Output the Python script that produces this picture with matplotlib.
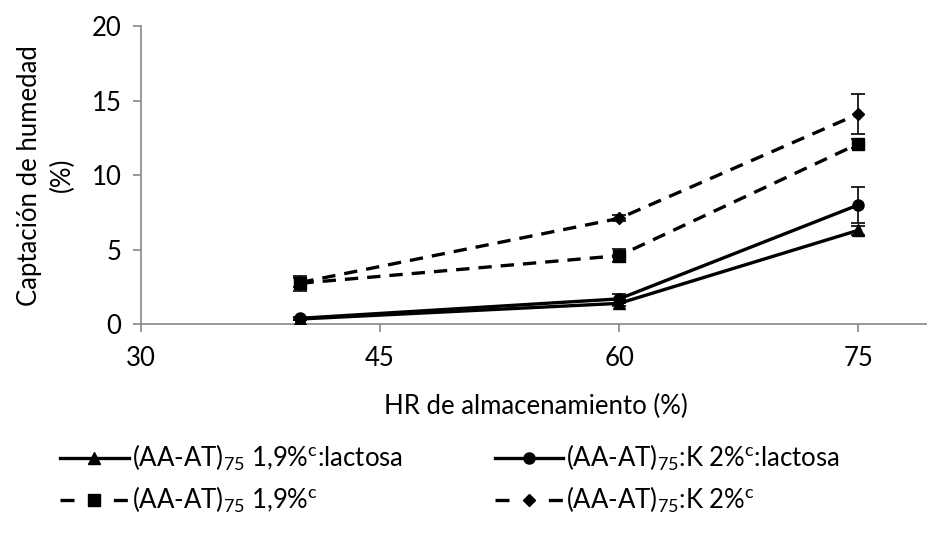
import matplotlib.pyplot as plt
from matplotlib.lines import Line2D

plt.rcParams['font.family'] = ['Lato', 'DejaVu Sans']
plt.rcParams['mathtext.fontset'] = 'custom'
plt.rcParams['mathtext.rm'] = 'Lato'
plt.rcParams['mathtext.it'] = 'Lato'

hr = [40, 60, 75]

# series values (%)
at_lact = [0.35, 1.4, 6.3]
at_lact_err = [0.1, 0.2, 0.3]
k_lact = [0.4, 1.7, 8.0]
k_lact_err = [0.1, 0.3, 1.2]
at = [2.75, 4.6, 12.1]
at_err = [0.5, 0.45, 0.3]
k = [2.8, 7.1, 14.1]
k_err = [0.3, 0.2, 1.35]

labels = [
    r'(AA-AT)$_{75}$ 1,9%$^{\mathrm{c}}$:lactosa',
    r'(AA-AT)$_{75}$:K 2%$^{\mathrm{c}}$:lactosa',
    r'(AA-AT)$_{75}$ 1,9%$^{\mathrm{c}}$',
    r'(AA-AT)$_{75}$:K 2%$^{\mathrm{c}}$',
]

fig = plt.figure(figsize=(9.28, 5.44), dpi=100)
ax = fig.add_axes([0.152, 0.404, 0.85, 0.548])

dash = (0, (4, 2.7))
series = [
    (at_lact, at_lact_err, '^', '-'),
    (k_lact, k_lact_err, 'o', '-'),
    (at, at_err, 's', dash),
    (k, k_err, 'D', dash),
]
handles = []
for (vals, err, mk, ls), lab in zip(series, labels):
    ax.errorbar(hr, vals, yerr=err, fmt='none', ecolor='black', elinewidth=1.2,
                capsize=5, capthick=1.2, zorder=2)
    ms = 6 if mk == 'D' else 8
    ax.plot(hr, vals, color='black', linestyle=ls, linewidth=2.4,
            marker=mk, markersize=ms, zorder=3)
    # legend handle: dash - marker - dash for the dashed series
    hls = '-' if ls == '-' else (0, (4.2, 11.8))
    handles.append(Line2D([], [], color='black', linestyle=hls, linewidth=2.4,
                          marker=mk, markersize=ms))

ax.set_xlim(30, 79.5)
ax.set_ylim(0, 20)
ax.set_xticks([30, 45, 60, 75])
ax.set_yticks([0, 5, 10, 15, 20])
for s in ['top', 'right']:
    ax.spines[s].set_visible(False)
for s in ['left', 'bottom']:
    ax.spines[s].set_color('#888888')
    ax.spines[s].set_linewidth(1.2)
ax.tick_params(axis='both', colors='#888888', length=6, width=1.2,
               labelcolor='black', labelsize=18.5)
ax.tick_params(axis='y', pad=8)
ax.tick_params(axis='x', pad=10)
ax.set_xlabel('HR de almacenamiento (%)', fontsize=18.5, labelpad=16)
ax.set_ylabel('Captación de humedad\n(%)', fontsize=18.5, labelpad=12,
              linespacing=1.4)

# legend is filled row by row in the reference
order = [0, 2, 1, 3]
fig.legend(handles=[handles[i] for i in order], labels=[labels[i] for i in order],
           loc='center', ncol=2, bbox_to_anchor=(0.485, 0.12), frameon=False,
           fontsize=18.5, handlelength=2.65, handletextpad=0.12, columnspacing=3.6,
           labelspacing=0.45)

fig.savefig('out.png', dpi=100)
